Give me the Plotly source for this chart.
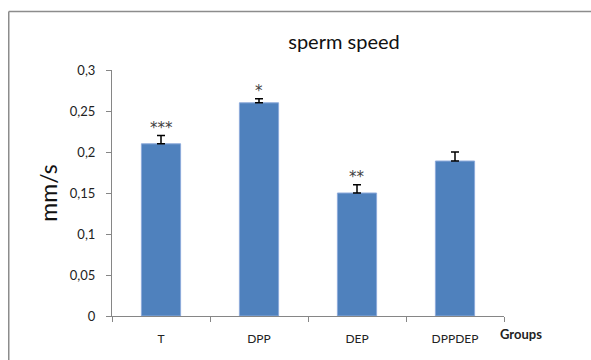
import plotly.graph_objects as go

groups = ["T", "DPP", "DEP", "DPPDEP"]
speed = [0.21, 0.26, 0.15, 0.189]
err_plus = [0.01, 0.005, 0.01, 0.011]
stars = ["***", "*", "**", ""]
y_ticks = [0, 0.05, 0.1, 0.15, 0.2, 0.25, 0.3]
y_tick_labels = ["0", "0,05", "0,1", "0,15", "0,2", "0,25", "0,3"]

W, H = 591, 360
ML, MT = 112, 70
pw, ph = 392, 246
MR, MB = W - ML - pw, H - MT - ph

FONT = "Lato"
fig = go.Figure()
fig.add_trace(go.Bar(
    x=groups, y=speed, width=0.4,
    marker=dict(color="#4F81BD", line=dict(color="#8DAADB", width=1)),
    error_y=dict(type="data", symmetric=False, array=err_plus,
                 arrayminus=[0] * len(speed), color="black", thickness=1.5, width=4),
    showlegend=False,
))

for g, v, e, s in zip(groups, speed, err_plus, stars):
    if s:
        fig.add_annotation(x=g, y=v + e, text=s, showarrow=False, yanchor="bottom",
                           yshift=-3, font=dict(family="DejaVu Sans", size=15, color="#404040"))

fig.add_annotation(xref="paper", yref="paper", x=1.0, y=0, xanchor="left", yanchor="top",
                   xshift=-6, yshift=-8, text="<b>Groups</b>", showarrow=False,
                   font=dict(family=FONT, size=13, color="#222"))

# chart border (only top and left edges visible)
bx0 = (8.75 - ML) / pw
bx1 = (W + 20 - ML) / pw
by0 = -(H + 20 - MT - ph) / ph
by1 = (MT + ph - 11.5) / ph
for x0, y0, x1, y1 in [(bx0, by1, bx1, by1), (bx0, by0, bx0, by1)]:
    fig.add_shape(type="line", xref="paper", yref="paper", x0=x0, y0=y0, x1=x1, y1=y1,
                  line=dict(color="#8C8C8C", width=1.5), layer="below")

fig.update_layout(
    width=W, height=H,
    margin=dict(l=ML, r=MR, t=MT, b=MB),
    paper_bgcolor="white", plot_bgcolor="white",
    title=dict(text="sperm speed", x=344 / W, xanchor="center", y=1 - 42 / H,
               yanchor="middle", font=dict(family=FONT, size=20, color="#111")),
    xaxis=dict(type="category", showline=True, linecolor="#868686", linewidth=1,
               ticks="outside", tickson="boundaries", ticklen=5, tickcolor="#868686",
               tickfont=dict(family=FONT, size=12, color="#222"), ticklabelstandoff=12,
               showgrid=False, zeroline=False),
    yaxis=dict(range=[0, 0.3], tickvals=y_ticks, ticktext=y_tick_labels,
               showline=True, linecolor="#868686", linewidth=1,
               ticks="outside", ticklen=5, tickcolor="#868686",
               tickfont=dict(family=FONT, size=13, color="#222"), ticklabelstandoff=8,
               showgrid=False, zeroline=False,
               title=dict(text="mm/s", font=dict(family=FONT, size=23, color="#111"), standoff=5)),
)

fig.write_html(
    "out.html",
    config={"displayModeBar": False},
    post_script=(
        "document.documentElement.style.overflow='hidden';"
        "document.body.style.overflow='hidden';"
        "document.body.style.margin='0';"
    ),
)
